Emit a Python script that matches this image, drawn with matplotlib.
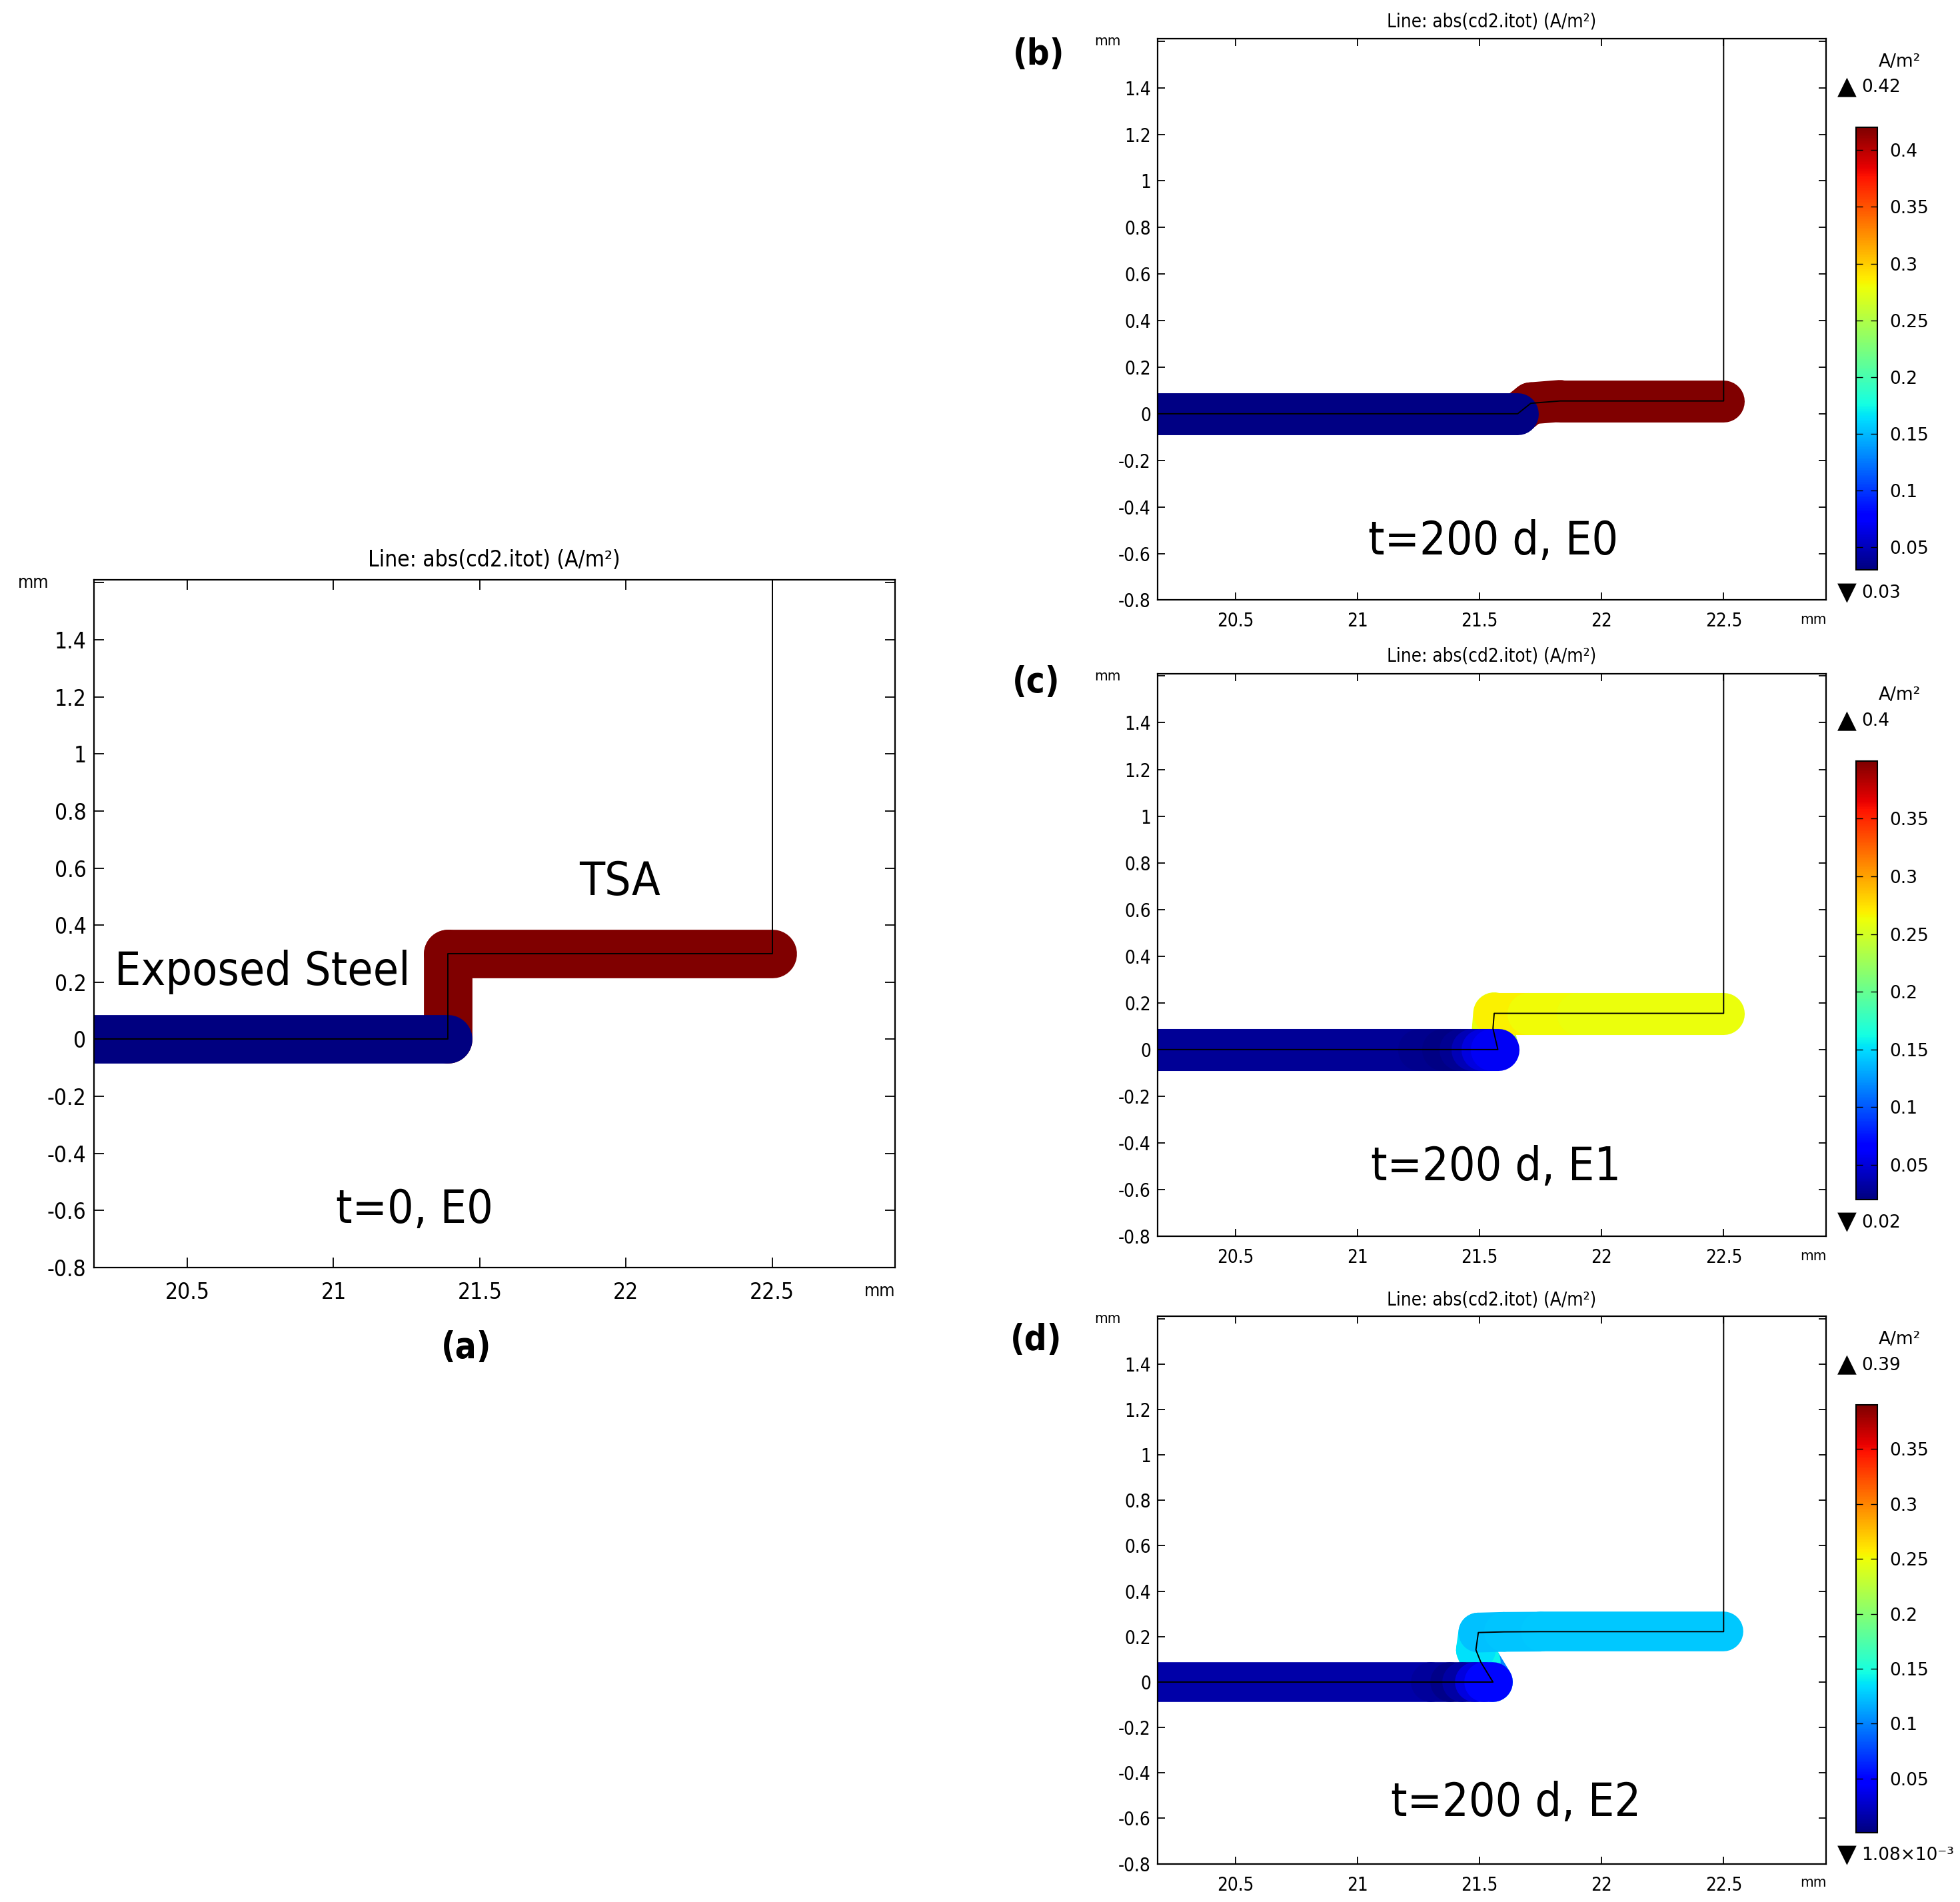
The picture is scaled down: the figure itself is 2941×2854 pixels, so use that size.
import os
import numpy as np
import matplotlib
matplotlib.use('Agg')
import matplotlib.pyplot as plt
import matplotlib.font_manager as fm
from matplotlib.collections import LineCollection
from matplotlib.colors import Normalize
from matplotlib.cm import ScalarMappable

plt.rcParams['axes.unicode_minus'] = False
plt.rcParams['font.family'] = ['DejaVu Sans']

# ---- data (mm, A/m^2) ----
X_TICKS = [20.5, 21.0, 21.5, 22.0, 22.5]
X_LABELS = ['20.5', '21', '21.5', '22', '22.5']
Y_TICKS = [-0.8, -0.6, -0.4, -0.2, 0.0, 0.2, 0.4, 0.6, 0.8, 1.0, 1.2, 1.4, 1.6]
Y_LABELS = ['-0.8', '-0.6', '-0.4', '-0.2', '0', '0.2', '0.4', '0.6', '0.8', '1', '1.2', '1.4', '']
X_LIM = (20.18, 22.92)
Y_LIM = (-0.8, 1.61)
WALL_X = 22.5

# (a) t=0, E0
a_steel_x = [20.0, 21.39]
a_steel_y = [0.0, 0.0]
a_steel_v = [0.03, 0.03]
a_tsa_x = [21.39, 21.39, 22.5]
a_tsa_y = [0.0, 0.30, 0.30]
a_tsa_v = [0.42, 0.42, 0.42]
a_range = (0.03, 0.42)

# (b) t=200 d, E0
b_steel_x = [20.0, 21.656]
b_steel_y = [0.0, 0.0]
b_steel_v = [0.032, 0.032]
b_tsa_x = [21.656, 21.71, 21.83, 22.5]
b_tsa_y = [0.0, 0.045, 0.055, 0.055]
b_tsa_v = [0.42, 0.42, 0.42, 0.42]
b_range = (0.03, 0.42)
b_ticks = [0.05, 0.1, 0.15, 0.2, 0.25, 0.3, 0.35, 0.4]

# (c) t=200 d, E1
c_steel_x = [20.0, 21.25, 21.35, 21.42, 21.47, 21.51, 21.55, 21.575]
c_steel_y = [0.0, 0.0, 0.0, 0.0, 0.0, 0.0, 0.0, 0.0]
c_steel_v = [0.028, 0.027, 0.023, 0.020, 0.032, 0.045, 0.058, 0.062]
c_tsa_x = [21.575, 21.555, 21.56, 21.7, 21.9, 22.5]
c_tsa_y = [0.0, 0.09, 0.155, 0.155, 0.155, 0.155]
c_tsa_v = [0.22, 0.25, 0.27, 0.267, 0.262, 0.261]
c_range = (0.02, 0.4)
c_ticks = [0.05, 0.1, 0.15, 0.2, 0.25, 0.3, 0.35]

# (d) t=200 d, E2
d_steel_x = [20.0, 21.3, 21.38, 21.43, 21.48, 21.52, 21.555]
d_steel_y = [0.0, 0.0, 0.0, 0.0, 0.0, 0.0, 0.0]
d_steel_v = [0.0155, 0.015, 0.008, 0.002, 0.025, 0.044, 0.06]
d_tsa_x = [21.555, 21.505, 21.485, 21.495, 21.6, 21.75, 22.5]
d_tsa_y = [0.0, 0.088, 0.142, 0.218, 0.221, 0.222, 0.222]
d_tsa_v = [0.06, 0.14, 0.147, 0.125, 0.123, 0.127, 0.127]
d_range = (0.00108, 0.39)
d_ticks = [0.05, 0.1, 0.15, 0.2, 0.25, 0.3, 0.35]

DPI = 100
W, H = 2941, 2854


def find_font(*names):
    for f in fm.fontManager.ttflist:
        if os.path.basename(f.fname) in names:
            return f.fname
    return None


COND = find_font('DejaVuSansCondensed.ttf', 'LiberationSansNarrow-Regular.ttf')
COND_B = find_font('DejaVuSansCondensed-Bold.ttf', 'LiberationSansNarrow-Bold.ttf')


def cprop(size, bold=False):
    path = COND_B if bold else COND
    if path:
        return fm.FontProperties(fname=path, size=size)
    return fm.FontProperties(family='DejaVu Sans', size=size, weight='bold' if bold else 'normal')


def draw_tube(ax, xs, ys, vals, norm, width_mm):
    # thickness given in mm -> points through the axes scale
    bb = ax.get_position()
    px_per_mm = bb.height * H / (Y_LIM[1] - Y_LIM[0])
    lw = width_mm * px_per_mm * 72 / DPI
    pts = np.column_stack([xs, ys])
    segs = np.stack([pts[:-1], pts[1:]], axis=1)
    v = np.asarray(vals, dtype=float)
    lc = LineCollection(segs, cmap='jet', norm=norm, linewidths=lw,
                        capstyle='round', joinstyle='round', zorder=2)
    lc.set_array((v[:-1] + v[1:]) / 2)
    ax.add_collection(lc)


def draw_panel(ax, steel, tsa, vrange, width_mm, fs, tlen, xpad, ypad, title_y):
    norm = Normalize(*vrange)
    draw_tube(ax, tsa[0], tsa[1], tsa[2], norm, width_mm)
    draw_tube(ax, steel[0], steel[1], steel[2], norm, width_mm)
    bx = list(steel[0]) + list(tsa[0][1:]) + [WALL_X]
    by = list(steel[1]) + list(tsa[1][1:]) + [Y_LIM[1] + 0.1]
    ax.plot(bx, by, color='black', lw=1.4, zorder=3)

    prop = cprop(fs)
    ax.set_xlim(*X_LIM)
    ax.set_ylim(*Y_LIM)
    ax.set_xticks(X_TICKS, X_LABELS, fontproperties=prop)
    ax.set_yticks(Y_TICKS, Y_LABELS, fontproperties=prop)
    ax.tick_params(direction='in', top=True, right=True, length=tlen, width=1.3)
    ax.tick_params(axis='x', pad=xpad)
    ax.tick_params(axis='y', pad=ypad)
    for s in ax.spines.values():
        s.set_linewidth(1.6)
    ax.text(0.5, title_y, 'Line: abs(cd2.itot) (A/m²)', transform=ax.transAxes,
            ha='center', va='center', fontproperties=cprop(fs))
    ax.text(-0.075, 0.995, 'mm', transform=ax.transAxes, ha='center', va='center',
            fontproperties=cprop(fs * 0.8))
    ax.text(0.981, -0.035, 'mm', transform=ax.transAxes, ha='center', va='center',
            fontproperties=cprop(fs * 0.8))
    return norm


def add_colorbar(fig, rect, norm, ticks, top_label, bottom_label):
    cax = fig.add_axes(rect)
    cb = fig.colorbar(ScalarMappable(norm=norm, cmap='jet'), cax=cax, ticks=ticks)
    cb.ax.set_yticklabels(['%g' % t for t in ticks])
    cax.tick_params(direction='in', left=True, right=True, length=7, width=1,
                    labelsize=19, pad=13)
    cb.outline.set_linewidth(1.5)
    kw = dict(xycoords='axes fraction', textcoords='offset points', va='center')
    cax.annotate('▲', xy=(0, 1), xytext=(-10, 43), ha='center', fontsize=27, **kw)
    cax.annotate(top_label, xy=(0, 1), xytext=(6, 43), ha='left', fontsize=19, **kw)
    cax.annotate('▼', xy=(0, 0), xytext=(-10, -25), ha='center', fontsize=27, **kw)
    cax.annotate(bottom_label, xy=(0, 0), xytext=(6, -25), ha='left', fontsize=19, **kw)
    cax.annotate('A/m²', xy=(0, 1), xytext=(47, 71), ha='center', fontsize=19, **kw)


fig = plt.figure(figsize=(W / DPI, H / DPI), dpi=DPI, facecolor='white')

ax_a = fig.add_axes([0.0478, 0.3336, 0.4088, 0.3615])
ax_b = fig.add_axes([0.5905, 0.6845, 0.3412, 0.2951])
ax_c = fig.add_axes([0.5905, 0.3500, 0.3412, 0.2958])
ax_d = fig.add_axes([0.5905, 0.0201, 0.3412, 0.2878])

draw_panel(ax_a, (a_steel_x, a_steel_y, a_steel_v), (a_tsa_x, a_tsa_y, a_tsa_v),
           a_range, 0.17, 24, 11, 15, 8, 1.029)
nb = draw_panel(ax_b, (b_steel_x, b_steel_y, b_steel_v), (b_tsa_x, b_tsa_y, b_tsa_v),
                b_range, 0.18, 20, 8, 13, 7, 1.031)
nc = draw_panel(ax_c, (c_steel_x, c_steel_y, c_steel_v), (c_tsa_x, c_tsa_y, c_tsa_v),
                c_range, 0.18, 20, 8, 13, 7, 1.031)
nd = draw_panel(ax_d, (d_steel_x, d_steel_y, d_steel_v), (d_tsa_x, d_tsa_y, d_tsa_v),
                d_range, 0.175, 20, 8, 13, 7, 1.030)

add_colorbar(fig, [0.947, 0.7003, 0.0109, 0.2327], nb, b_ticks, '0.42', '0.03')
add_colorbar(fig, [0.947, 0.3693, 0.0109, 0.2306], nc, c_ticks, '0.4', '0.02')
add_colorbar(fig, [0.947, 0.0366, 0.0109, 0.2247], nd, d_ticks, '0.39', '1.08×10⁻³')

big = cprop(50)
ax_a.text(20.756, 0.236, 'Exposed Steel', ha='center', va='center', fontproperties=big)
ax_a.text(21.979, 0.551, 'TSA', ha='center', va='center', fontproperties=big)
ax_a.text(21.278, -0.599, 't=0, E0', ha='center', va='center', fontproperties=big)
ax_b.text(21.556, -0.547, 't=200 d, E0', ha='center', va='center', fontproperties=big)
ax_c.text(21.567, -0.504, 't=200 d, E1', ha='center', va='center', fontproperties=big)
ax_d.text(21.649, -0.533, 't=200 d, E2', ha='center', va='center', fontproperties=big)

lab = cprop(38, bold=True)
fig.text(0.2379, 0.2916, '(a)', ha='center', va='center', fontproperties=lab)
fig.text(0.5300, 0.9711, '(b)', ha='center', va='center', fontproperties=lab)
fig.text(0.5287, 0.6412, '(c)', ha='center', va='center', fontproperties=lab)
fig.text(0.5287, 0.2955, '(d)', ha='center', va='center', fontproperties=lab)

fig.savefig('out.png', dpi=DPI, facecolor='white')
